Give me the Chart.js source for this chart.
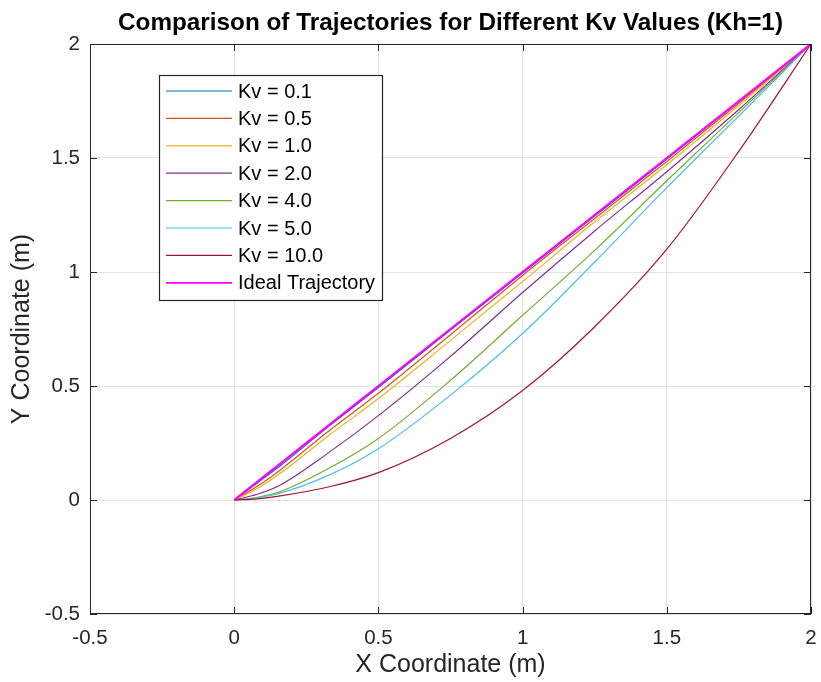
<!DOCTYPE html>
<html>
<head>
<meta charset="utf-8">
<script src="https://cdn.jsdelivr.net/npm/chart.js@4.4.1/dist/chart.umd.min.js"></script>
<style>
  html, body { margin: 0; padding: 0; background: #ffffff; }
  #wrap { width: 821px; height: 682px; }
</style>
</head>
<body>
<div id="wrap"><canvas id="c" width="821" height="682"></canvas></div>
<script>
// ---- data ----
const xValues   = [0, 0.08, 0.16, 0.33, 0.5, 0.75, 1.0, 1.25, 1.5, 1.75, 2.0];
const kv01      = [0, 0.075, 0.15, 0.325, 0.493, 0.745, 0.995, 1.245, 1.495, 1.748, 2.0];
const kv05      = [0, 0.06, 0.132, 0.305, 0.468, 0.725, 0.985, 1.235, 1.485, 1.74, 2.0];
const kv10      = [0, 0.05, 0.117, 0.285, 0.445, 0.70, 0.958, 1.22, 1.47, 1.73, 2.0];
const kv20      = [0, 0.025, 0.066, 0.21, 0.37, 0.63, 0.91, 1.18, 1.44, 1.713, 2.0];
const kv40      = [0, 0.012, 0.037, 0.14, 0.27, 0.525, 0.81, 1.095, 1.40, 1.70, 2.0];
const kv50      = [0, 0.01, 0.03, 0.11, 0.225, 0.46, 0.73, 1.044, 1.37, 1.684, 2.0];
const kv100     = [0, 0.005, 0.018, 0.058, 0.12, 0.27, 0.48, 0.76, 1.10, 1.53, 2.0];
const idealY    = [0, 0.08, 0.16, 0.33, 0.5, 0.75, 1.0, 1.25, 1.5, 1.75, 2.0];
const seriesLabels = ['Kv = 0.1', 'Kv = 0.5', 'Kv = 1.0', 'Kv = 2.0', 'Kv = 4.0', 'Kv = 5.0', 'Kv = 10.0', 'Ideal Trajectory'];
const seriesValues = [kv01, kv05, kv10, kv20, kv40, kv50, kv100, idealY];
const seriesColors = ['#0072BD', '#D95319', '#EDB120', '#7E2F8E', '#77AC30', '#4DBEEE', '#A2142F', '#FF00FF'];
const seriesWidths = [1.2, 1.2, 1.2, 1.2, 1.2, 1.2, 1.2, 2.2];
const axisTicks = [-0.5, 0, 0.5, 1, 1.5, 2];
const titleText = 'Comparison of Trajectories for Different Kv Values (Kh=1)';
const xTitle = 'X Coordinate (m)';
const yTitle = 'Y Coordinate (m)';

const FONT = '"Liberation Sans", Arial, Helvetica, sans-serif';
const INK = '#262626';

const datasets = seriesLabels.map((lab, i) => ({
  label: lab,
  data: xValues.map((x, k) => ({ x: x, y: seriesValues[i][k] })),
  borderColor: seriesColors[i],
  backgroundColor: seriesColors[i],
  borderWidth: seriesWidths[i],
  pointRadius: 0,
  fill: false,
  cubicInterpolationMode: 'monotone',
  order: seriesLabels.length - 1 - i
}));

const matlabPlugin = {
  id: 'matlab',
  beforeDraw(chart) {
    const ctx = chart.ctx;
    ctx.save();
    ctx.fillStyle = '#ffffff';
    ctx.fillRect(0, 0, chart.width, chart.height);
    ctx.restore();
  },
  afterDraw(chart) {
    const ctx = chart.ctx;
    const a = chart.chartArea;
    const xs = chart.scales.x, ys = chart.scales.y;
    ctx.save();
    // box
    ctx.strokeStyle = INK;
    ctx.lineWidth = 1;
    ctx.strokeRect(Math.round(a.left) + 0.5, Math.round(a.top) + 0.5, Math.round(a.right - a.left) - 1, Math.round(a.bottom - a.top) - 1);
    // inward ticks
    const tl = 7;
    ctx.beginPath();
    axisTicks.forEach(v => {
      const px = Math.round(xs.getPixelForValue(v)) + 0.5;
      ctx.moveTo(px, a.bottom); ctx.lineTo(px, a.bottom - tl);
      ctx.moveTo(px, a.top); ctx.lineTo(px, a.top + tl);
      const py = Math.round(ys.getPixelForValue(v)) + 0.5;
      ctx.moveTo(a.left, py); ctx.lineTo(a.left + tl, py);
      ctx.moveTo(a.right, py); ctx.lineTo(a.right - tl, py);
    });
    ctx.stroke();
    // title
    ctx.fillStyle = '#000000';
    ctx.font = 'bold 24.3px ' + FONT;
    ctx.textAlign = 'center';
    ctx.textBaseline = 'middle';
    ctx.fillText(titleText, (a.left + a.right) / 2, 23);
    // axis titles
    ctx.fillStyle = INK;
    ctx.font = '25px ' + FONT;
    ctx.fillText(xTitle, (a.left + a.right) / 2, 665);
    ctx.save();
    ctx.translate(22, (a.top + a.bottom) / 2);
    ctx.rotate(-Math.PI / 2);
    ctx.fillText(yTitle, 0, 0);
    ctx.restore();
    // legend
    const lx = 159.5, ly = 75.5, lw = 223, lh = 225;
    ctx.fillStyle = '#ffffff';
    ctx.fillRect(lx, ly, lw, lh);
    ctx.strokeStyle = INK;
    ctx.lineWidth = 1.2;
    ctx.strokeRect(lx, ly, lw, lh);
    ctx.font = '20px ' + FONT;
    ctx.textAlign = 'left';
    ctx.textBaseline = 'middle';
    seriesLabels.forEach((lab, i) => {
      const cy = 91 + i * 27.4;
      ctx.strokeStyle = seriesColors[i];
      ctx.lineWidth = seriesWidths[i] > 2 ? 1.8 : 1.2;
      ctx.beginPath();
      ctx.moveTo(166, cy); ctx.lineTo(232, cy);
      ctx.stroke();
      ctx.fillStyle = '#000000';
      ctx.fillText(lab, 238, cy + 1);
    });
    ctx.restore();
  }
};

new Chart(document.getElementById('c'), {
  type: 'line',
  data: { datasets: datasets },
  options: {
    responsive: false,
    devicePixelRatio: 1,
    animation: false,
    layout: { padding: { top: 44, right: 10, left: 0, bottom: 0 } },
    plugins: { legend: { display: false }, title: { display: false }, tooltip: { enabled: false } },
    scales: {
      x: {
        type: 'linear', min: -0.5, max: 2,
        afterBuildTicks: s => { s.ticks = axisTicks.map(v => ({ value: v })); },
        afterFit: s => { s.height = 68; s.paddingLeft = 0; s.paddingRight = 0; },
        grid: { color: '#e3e3e3', drawTicks: false },
        border: { display: false },
        ticks: { color: INK, font: { family: FONT, size: 20.5 }, padding: 12, maxRotation: 0, callback: v => String(v) }
      },
      y: {
        type: 'linear', min: -0.5, max: 2,
        afterBuildTicks: s => { s.ticks = axisTicks.map(v => ({ value: v })); },
        afterFit: s => { s.width = 90; s.paddingTop = 0; s.paddingBottom = 0; },
        grid: { color: '#e3e3e3', drawTicks: false },
        border: { display: false },
        ticks: { color: INK, font: { family: FONT, size: 20.5 }, padding: 10, callback: v => String(v) }
      }
    }
  },
  plugins: [matlabPlugin]
});
</script>
</body>
</html>
